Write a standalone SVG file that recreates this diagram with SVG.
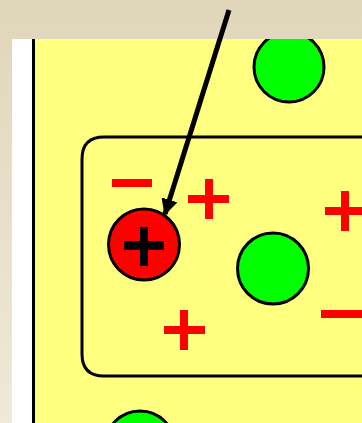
<svg xmlns="http://www.w3.org/2000/svg" width="362" height="423" viewBox="0 0 362 423">
<defs>
<linearGradient id="bg" x1="0" y1="0" x2="0" y2="1">
<stop offset="0" stop-color="#E0D6BB"/>
<stop offset="1" stop-color="#EFE9D8"/>
</linearGradient>
<clipPath id="paper"><rect x="35" y="39" width="327" height="384"/></clipPath>
<marker id="ah" viewBox="0 0 10 10" refX="9" refY="5" markerWidth="3.3" markerHeight="3.3" orient="auto" markerUnits="strokeWidth">
<path d="M0,0 L10,5 L0,10 Z" fill="#000"/>
</marker>
</defs>
<style>
.green{fill:#00FF00;stroke:#000;stroke-width:3}
.red{fill:#FF0000;stroke:#000;stroke-width:3}
.charge{fill:#FF0000}
.wall{fill:none;stroke:#000;stroke-width:3}
</style>
<rect x="0" y="0" width="362" height="423" fill="url(#bg)"/>
<rect x="12" y="39" width="350" height="384" fill="#FFFFFF"/>
<rect x="35" y="39" width="327" height="384" fill="#FFFF80"/>
<rect x="32" y="39" width="3" height="384" fill="#000"/>
<g clip-path="url(#paper)">
<g id="cell-wall"><path class="wall" d="M370,137 H104 Q82,137 82,159 V354 Q82,376 104,376 H370"/></g>
<g id="green-top"><circle class="green" cx="289" cy="67" r="35"/></g>
<g id="green-mid"><circle class="green" cx="273" cy="268.5" r="35.5"/></g>
<g id="green-bottom"><circle class="green" cx="140" cy="446" r="35"/></g>
<g id="red-ion"><circle class="red" cx="144" cy="244.5" r="35.5"/>
<rect x="124" y="241" width="40" height="9" fill="#000"/>
<rect x="140" y="227" width="8" height="39" fill="#000"/></g>
<g id="minus-left"><rect class="charge" x="112" y="179" width="40" height="8"/></g>
<g id="plus-top"><rect class="charge" x="188" y="195" width="41" height="8"/><rect class="charge" x="205" y="179" width="8" height="40"/></g>
<g id="plus-right"><rect class="charge" x="325" y="207" width="40" height="8"/><rect class="charge" x="341" y="191" width="8" height="40"/></g>
<g id="plus-bottom"><rect class="charge" x="164" y="326" width="41" height="8"/><rect class="charge" x="180" y="310" width="8" height="40"/></g>
<g id="minus-right"><rect class="charge" x="321" y="310" width="41" height="8"/></g>
</g>
<g id="connectors">
<line x1="229" y1="10" x2="165" y2="214" stroke="#000" stroke-width="5" marker-end="url(#ah)"/>
</g>
</svg>
